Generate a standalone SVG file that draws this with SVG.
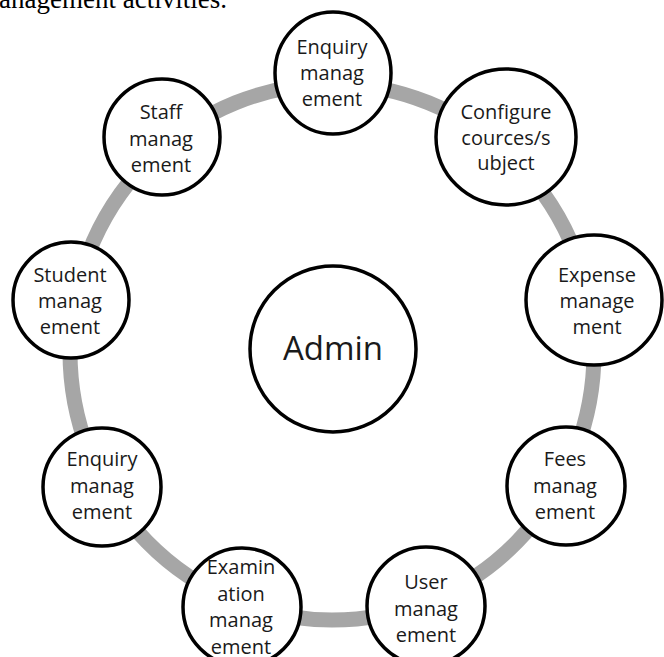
<svg xmlns="http://www.w3.org/2000/svg" width="664" height="657" viewBox="0 0 664 657">
<style>
.node{fill:#fff;stroke:#000;stroke-width:3.5}
.lbl{font-family:"Open Sans","Noto Sans",sans-serif;font-size:20px;fill:#1a1a1a;text-anchor:middle}
.ring{fill:none;stroke:#a6a6a6;stroke-width:15}
</style>
<rect width="664" height="657" fill="#fff"/>
<text x="-1" y="8" font-family="Liberation Serif,serif" font-size="27" fill="#000">anagement activities.</text>
<g id="connectors">
<ellipse class="ring" cx="332" cy="352" rx="262" ry="268"/>
</g>
<g id="admin">
<circle class="node" cx="333" cy="349" r="83"/>
<text class="lbl" x="333" y="360" style="font-size:33px">Admin</text>
</g>
<g id="enquiry-top">
<ellipse class="node" cx="333" cy="73" rx="58" ry="61"/>
<text class="lbl"><tspan x="332" y="54">Enquiry</tspan><tspan x="332" y="80">manag</tspan><tspan x="332" y="106">ement</tspan></text>
</g>
<g id="configure">
<ellipse class="node" cx="506" cy="137" rx="70" ry="68"/>
<text class="lbl"><tspan x="506" y="119">Configure</tspan><tspan x="506" y="145">cources/s</tspan><tspan x="506" y="170">ubject</tspan></text>
</g>
<g id="staff">
<circle class="node" cx="162" cy="137" r="58"/>
<text class="lbl"><tspan x="161" y="119">Staff</tspan><tspan x="161" y="146">manag</tspan><tspan x="161" y="172">ement</tspan></text>
</g>
<g id="student">
<circle class="node" cx="71" cy="300" r="58"/>
<text class="lbl"><tspan x="70" y="282">Student</tspan><tspan x="70" y="308">manag</tspan><tspan x="70" y="334">ement</tspan></text>
</g>
<g id="expense">
<ellipse class="node" cx="594" cy="300" rx="68" ry="65"/>
<text class="lbl"><tspan x="597" y="282">Expense</tspan><tspan x="597" y="308">manage</tspan><tspan x="597" y="334">ment</tspan></text>
</g>
<g id="enquiry-left">
<circle class="node" cx="102" cy="487" r="59"/>
<text class="lbl"><tspan x="102" y="466">Enquiry</tspan><tspan x="102" y="493">manag</tspan><tspan x="102" y="519">ement</tspan></text>
</g>
<g id="fees">
<circle class="node" cx="566" cy="486" r="59"/>
<text class="lbl"><tspan x="565" y="466">Fees</tspan><tspan x="565" y="493">manag</tspan><tspan x="565" y="519">ement</tspan></text>
</g>
<g id="examination">
<circle class="node" cx="242" cy="607" r="59"/>
<text class="lbl"><tspan x="241" y="574">Examin</tspan><tspan x="241" y="601">ation</tspan><tspan x="241" y="627">manag</tspan><tspan x="241" y="654">ement</tspan></text>
</g>
<g id="user">
<circle class="node" cx="426" cy="606" r="59"/>
<text class="lbl"><tspan x="426" y="589">User</tspan><tspan x="426" y="616">manag</tspan><tspan x="426" y="642">ement</tspan></text>
</g>
</svg>
